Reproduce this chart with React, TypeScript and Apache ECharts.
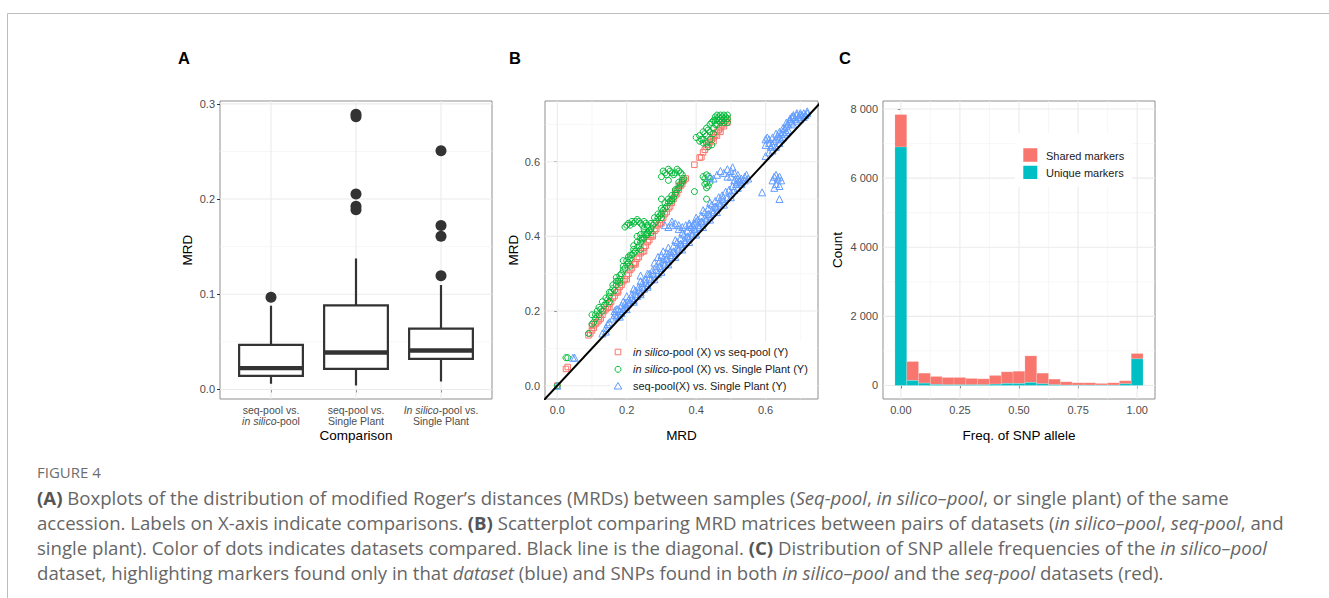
import React, { useEffect, useRef } from 'react';
import * as echarts from 'echarts';

const FONT = '"Liberation Sans", Arial, Helvetica, sans-serif';
const CAP_FONT = '"Open Sans", sans-serif';
const TICK_COLOR = '#4d4d4d';
const GRID_MAJOR = '#ebebeb';
const GRID_MINOR = '#f4f4f4';
const BORDER = '#8f8f8f';
const RED = '#F8766D';
const GREEN = '#00BA38';
const BLUE = '#619CFF';
const TEAL = '#00BFC4';

// ---------- Panel A : boxplots ----------
const boxLabels = [
  '{n|seq-pool vs.}\n{i|in silico}{n|-pool}',
  '{n|seq-pool vs.}\n{n|Single Plant}',
  '{i|In silico}{n|-pool vs.}\n{n|Single Plant}',
];
const boxPos = [1, 2, 3];
const whiskerLow = [0.006, 0.0042, 0.0084];
const q1 = [0.0143, 0.0217, 0.0322];
const median = [0.0224, 0.0388, 0.041];
const q3 = [0.0468, 0.0884, 0.0639];
const whiskerHigh = [0.088, 0.1376, 0.1097];
const outliers = [
  [1, 0.0968],
  [2, 0.289], [2, 0.2865], [2, 0.2054], [2, 0.1925], [2, 0.1888],
  [3, 0.2508], [3, 0.1722], [3, 0.161], [3, 0.1194],
];
const aTicksY = [0, 0.1, 0.2, 0.3];
const aMinorY = [0.05, 0.15, 0.25];

// ---------- Panel B : scatter ----------
const silicoVsSeq = [
  [0, 0], [0.025, 0.045], [0.03, 0.05],
  [0.09, 0.135], [0.095, 0.14], [0.1, 0.148], [0.1, 0.16], [0.105, 0.155], [0.11, 0.165], [0.115, 0.17],
  [0.12, 0.175], [0.12, 0.185], [0.125, 0.18], [0.13, 0.19], [0.135, 0.2], [0.14, 0.205], [0.145, 0.21],
  [0.15, 0.22], [0.155, 0.225], [0.16, 0.235], [0.165, 0.24], [0.17, 0.25], [0.175, 0.255], [0.18, 0.265],
  [0.185, 0.27], [0.19, 0.28], [0.195, 0.285], [0.2, 0.295], [0.205, 0.3], [0.21, 0.31], [0.215, 0.315],
  [0.22, 0.325], [0.225, 0.33], [0.23, 0.34], [0.235, 0.345], [0.24, 0.355], [0.245, 0.36], [0.25, 0.37],
  [0.255, 0.375], [0.26, 0.385], [0.265, 0.39], [0.27, 0.4], [0.275, 0.405], [0.28, 0.415], [0.285, 0.42],
  [0.29, 0.43], [0.295, 0.435], [0.3, 0.445], [0.305, 0.45], [0.31, 0.46], [0.315, 0.465], [0.32, 0.475],
  [0.325, 0.48], [0.33, 0.49], [0.335, 0.5], [0.34, 0.51], [0.345, 0.515], [0.35, 0.525], [0.355, 0.535],
  [0.36, 0.54], [0.365, 0.55], [0.2, 0.285], [0.25, 0.36], [0.3, 0.435], [0.15, 0.21],
  [0.36, 0.55], [0.37, 0.555], [0.35, 0.535], [0.34, 0.52], [0.175, 0.25], [0.225, 0.325], [0.275, 0.4],
  [0.395, 0.592], [0.41, 0.611], [0.415, 0.612],
  [0.42, 0.625], [0.425, 0.632], [0.43, 0.64], [0.435, 0.645], [0.44, 0.652], [0.445, 0.66], [0.45, 0.665],
  [0.455, 0.672], [0.46, 0.68], [0.465, 0.685], [0.47, 0.69], [0.475, 0.698], [0.48, 0.703], [0.485, 0.71],
  [0.49, 0.715], [0.49, 0.705], [0.47, 0.68], [0.45, 0.655], [0.46, 0.67], [0.48, 0.695],
];
const silicoVsPlant = [
  [0, 0], [0.025, 0.075], [0.03, 0.075],
  [0.09, 0.14], [0.1, 0.165], [0.1, 0.19], [0.105, 0.17], [0.11, 0.18], [0.115, 0.2], [0.12, 0.19],
  [0.125, 0.205], [0.13, 0.2], [0.135, 0.215], [0.14, 0.22], [0.145, 0.23], [0.15, 0.24], [0.155, 0.25],
  [0.16, 0.26], [0.165, 0.255], [0.17, 0.27], [0.175, 0.28], [0.17, 0.29], [0.18, 0.285], [0.185, 0.3],
  [0.19, 0.31], [0.19, 0.335], [0.195, 0.315], [0.2, 0.325], [0.205, 0.33], [0.205, 0.345], [0.21, 0.34],
  [0.215, 0.35], [0.22, 0.355], [0.22, 0.365], [0.225, 0.36], [0.23, 0.37], [0.235, 0.375], [0.24, 0.385],
  [0.245, 0.39], [0.25, 0.395], [0.255, 0.405], [0.26, 0.41], [0.265, 0.415], [0.27, 0.42], [0.275, 0.43],
  [0.28, 0.435], [0.285, 0.44], [0.29, 0.45], [0.295, 0.455], [0.3, 0.46], [0.305, 0.47], [0.31, 0.475],
  [0.315, 0.48], [0.32, 0.49], [0.3, 0.5], [0.325, 0.495], [0.33, 0.5], [0.335, 0.505], [0.34, 0.515],
  [0.345, 0.525], [0.35, 0.53], [0.355, 0.54],
  [0.11, 0.19], [0.12, 0.21], [0.13, 0.225], [0.14, 0.235], [0.15, 0.25], [0.16, 0.27], [0.17, 0.28],
  [0.18, 0.295], [0.19, 0.32], [0.2, 0.335], [0.21, 0.35], [0.22, 0.375], [0.23, 0.385], [0.24, 0.395],
  [0.25, 0.42], [0.26, 0.425], [0.27, 0.435], [0.28, 0.45], [0.29, 0.46], [0.3, 0.475], [0.31, 0.49],
  [0.32, 0.5], [0.33, 0.51], [0.34, 0.525], [0.35, 0.545], [0.36, 0.55],
  [0.15, 0.225], [0.18, 0.275], [0.21, 0.32], [0.24, 0.365], [0.27, 0.41], [0.3, 0.45], [0.33, 0.495],
  [0.195, 0.425], [0.2, 0.43], [0.205, 0.435], [0.21, 0.43], [0.215, 0.44], [0.22, 0.435], [0.225, 0.44],
  [0.23, 0.445], [0.235, 0.44], [0.24, 0.435], [0.245, 0.43], [0.25, 0.44], [0.255, 0.435], [0.26, 0.43],
  [0.23, 0.4], [0.24, 0.405], [0.25, 0.41], [0.245, 0.395], [0.26, 0.405],
  [0.3, 0.56], [0.305, 0.575], [0.31, 0.57], [0.315, 0.565], [0.32, 0.58], [0.325, 0.575], [0.33, 0.57],
  [0.335, 0.565], [0.34, 0.57], [0.345, 0.58], [0.35, 0.575], [0.355, 0.57], [0.36, 0.565], [0.365, 0.555],
  [0.32, 0.55], [0.36, 0.545],
  [0.395, 0.52],
  [0.42, 0.56], [0.425, 0.555], [0.43, 0.565], [0.435, 0.56], [0.44, 0.555], [0.43, 0.545], [0.425, 0.54],
  [0.435, 0.535], [0.44, 0.545], [0.43, 0.53],
  [0.43, 0.5],
  [0.4, 0.665], [0.41, 0.67], [0.415, 0.66], [0.42, 0.68], [0.425, 0.675], [0.43, 0.65], [0.43, 0.69],
  [0.435, 0.685], [0.44, 0.7], [0.44, 0.66], [0.445, 0.705], [0.45, 0.71], [0.45, 0.69], [0.455, 0.72],
  [0.455, 0.7], [0.46, 0.715], [0.46, 0.725], [0.465, 0.71], [0.465, 0.72], [0.47, 0.725], [0.47, 0.705],
  [0.475, 0.72], [0.475, 0.71], [0.48, 0.725], [0.48, 0.715], [0.485, 0.72], [0.49, 0.725], [0.49, 0.715],
  [0.435, 0.64], [0.445, 0.645], [0.45, 0.675], [0.42, 0.65],
  [0.46, 0.7], [0.47, 0.715], [0.48, 0.705], [0.49, 0.705], [0.455, 0.71], [0.44, 0.68], [0.43, 0.67],
  [0.42, 0.66], [0.41, 0.655],
];
const seqVsPlant = [
  [0, 0], [0.045, 0.075], [0.05, 0.075],
  [0.13, 0.14], [0.14, 0.155], [0.145, 0.165], [0.15, 0.17], [0.14, 0.145],
  [0.16, 0.18], [0.165, 0.19], [0.17, 0.185], [0.175, 0.19], [0.18, 0.2], [0.185, 0.195], [0.19, 0.205],
  [0.195, 0.21], [0.2, 0.215], [0.205, 0.22], [0.21, 0.225], [0.215, 0.235], [0.22, 0.23], [0.225, 0.245],
  [0.23, 0.24], [0.235, 0.255], [0.24, 0.25], [0.245, 0.265], [0.25, 0.26], [0.255, 0.275], [0.26, 0.27],
  [0.265, 0.29], [0.27, 0.285], [0.275, 0.3], [0.28, 0.295], [0.285, 0.31], [0.29, 0.3], [0.295, 0.32],
  [0.3, 0.315], [0.305, 0.33], [0.31, 0.325], [0.315, 0.34], [0.32, 0.335], [0.325, 0.35], [0.33, 0.345],
  [0.335, 0.36], [0.34, 0.355], [0.345, 0.37], [0.35, 0.365], [0.355, 0.38], [0.36, 0.375], [0.365, 0.39],
  [0.37, 0.385], [0.375, 0.4], [0.38, 0.395], [0.385, 0.41], [0.39, 0.405], [0.395, 0.42], [0.4, 0.415],
  [0.405, 0.43], [0.41, 0.425], [0.415, 0.44], [0.42, 0.435], [0.425, 0.45], [0.43, 0.445], [0.435, 0.46],
  [0.44, 0.455], [0.445, 0.47], [0.45, 0.465], [0.455, 0.48], [0.46, 0.475], [0.465, 0.49], [0.47, 0.485],
  [0.475, 0.5], [0.48, 0.495], [0.49, 0.505], [0.5, 0.515], [0.51, 0.525], [0.52, 0.53], [0.53, 0.54],
  [0.54, 0.55],
  [0.165, 0.2], [0.175, 0.205], [0.185, 0.215], [0.195, 0.22], [0.205, 0.23], [0.215, 0.245], [0.225, 0.255],
  [0.235, 0.265], [0.245, 0.275], [0.255, 0.285], [0.265, 0.3], [0.275, 0.31], [0.285, 0.32], [0.295, 0.335],
  [0.305, 0.34], [0.315, 0.355], [0.325, 0.36], [0.335, 0.375], [0.345, 0.385], [0.355, 0.395], [0.365, 0.405],
  [0.375, 0.415], [0.385, 0.425], [0.395, 0.435], [0.405, 0.445], [0.415, 0.455], [0.425, 0.465],
  [0.435, 0.475], [0.445, 0.485], [0.455, 0.495], [0.465, 0.505], [0.475, 0.51], [0.485, 0.52],
  [0.495, 0.525], [0.505, 0.535], [0.515, 0.54], [0.525, 0.55],
  [0.18, 0.185], [0.2, 0.205], [0.22, 0.225], [0.24, 0.245], [0.26, 0.265], [0.28, 0.285], [0.3, 0.305],
  [0.32, 0.325], [0.34, 0.345], [0.36, 0.365], [0.38, 0.385], [0.4, 0.405], [0.42, 0.425], [0.44, 0.445],
  [0.46, 0.465], [0.48, 0.485], [0.5, 0.505],
  [0.2, 0.24], [0.22, 0.26], [0.24, 0.28], [0.26, 0.3], [0.28, 0.33], [0.3, 0.35], [0.32, 0.37],
  [0.34, 0.39], [0.36, 0.41], [0.38, 0.43], [0.4, 0.45], [0.42, 0.47], [0.44, 0.49],
  [0.24, 0.295], [0.17, 0.205], [0.19, 0.225],
  [0.31, 0.43], [0.32, 0.425], [0.33, 0.43], [0.34, 0.435], [0.35, 0.43], [0.36, 0.425], [0.37, 0.43],
  [0.38, 0.435], [0.39, 0.43], [0.4, 0.44], [0.35, 0.42], [0.33, 0.44],
  [0.305, 0.36], [0.29, 0.345],
  [0.44, 0.56], [0.45, 0.555], [0.46, 0.565], [0.47, 0.575], [0.48, 0.57], [0.49, 0.58], [0.5, 0.575],
  [0.505, 0.585], [0.51, 0.57], [0.5, 0.56], [0.49, 0.56], [0.52, 0.565], [0.53, 0.555], [0.52, 0.545],
  [0.54, 0.56], [0.55, 0.555], [0.51, 0.55], [0.53, 0.545], [0.52, 0.555], [0.545, 0.565],
  [0.59, 0.518],
  [0.62, 0.55], [0.625, 0.56], [0.63, 0.565], [0.635, 0.555], [0.64, 0.56], [0.645, 0.55], [0.63, 0.54],
  [0.64, 0.535], [0.625, 0.53], [0.64, 0.5],
  [0.6, 0.66], [0.605, 0.665], [0.61, 0.65], [0.615, 0.64], [0.62, 0.645], [0.625, 0.655], [0.63, 0.66],
  [0.635, 0.67], [0.64, 0.665], [0.645, 0.675], [0.65, 0.68], [0.655, 0.69], [0.66, 0.695], [0.665, 0.7],
  [0.67, 0.71], [0.675, 0.705], [0.68, 0.72], [0.685, 0.715], [0.69, 0.725], [0.695, 0.72], [0.7, 0.73],
  [0.705, 0.725], [0.71, 0.73], [0.715, 0.725], [0.72, 0.73], [0.72, 0.735], [0.71, 0.72], [0.7, 0.715],
  [0.69, 0.71], [0.68, 0.7], [0.665, 0.685], [0.655, 0.675], [0.645, 0.66], [0.62, 0.63], [0.63, 0.64],
  [0.6, 0.645], [0.61, 0.66], [0.62, 0.665], [0.63, 0.675], [0.64, 0.68], [0.65, 0.69], [0.66, 0.705],
  [0.67, 0.715], [0.68, 0.725], [0.69, 0.73], [0.7, 0.725], [0.675, 0.72], [0.66, 0.68], [0.65, 0.665],
  [0.64, 0.65], [0.61, 0.625], [0.6, 0.615],
];
const diagonal = [[-0.1, -0.1], [0.9, 0.9]];
const bTicks = [0, 0.2, 0.4, 0.6];
const bMinor = [0.1, 0.3, 0.5, 0.7];
const bLegend = [
  '{i|in silico}-pool (X) vs seq-pool (Y)',
  '{i|in silico}-pool (X) vs. Single Plant (Y)',
  'seq-pool(X) vs. Single Plant (Y)',
];

// ---------- Panel C : histogram ----------
const freqBins = [0, 0.05, 0.1, 0.15, 0.2, 0.25, 0.3, 0.35, 0.4, 0.45, 0.5, 0.55, 0.6, 0.65, 0.7, 0.75, 0.8, 0.85, 0.9, 0.95, 1.0];
const uniqueCounts = [6900, 144, 67, 29, 20, 20, 20, 20, 38, 58, 58, 87, 48, 20, 10, 10, 10, 10, 10, 48, 770];
const sharedCounts = [940, 549, 289, 231, 211, 211, 182, 172, 251, 337, 356, 770, 308, 163, 96, 67, 67, 48, 67, 87, 154];
const binWidth = 0.05;
const cTicksX = [0, 0.25, 0.5, 0.75, 1.0];
const cMinorX = [0.125, 0.375, 0.625, 0.875];
const cTicksY = [0, 2000, 4000, 6000, 8000];
const cMinorY = [1000, 3000, 5000, 7000];
const cLegend = ['Shared markers', 'Unique markers'];

// ---------- Caption ----------
const captionTitle = 'FIGURE 4';
const captionLines = [
  '{b|(A)} Boxplots of the distribution of modified Roger’s distances (MRDs) between samples ({i|Seq-pool}, {i|in silico–pool}, or single plant) of the same',
  'accession. Labels on X-axis indicate comparisons. {b|(B)} Scatterplot comparing MRD matrices between pairs of datasets ({i|in silico–pool}, {i|seq-pool}, and',
  'single plant). Color of dots indicates datasets compared. Black line is the diagonal. {b|(C)} Distribution of SNP allele frequencies of the {i|in silico–pool}',
  'dataset, highlighting markers found only in that {i|dataset} (blue) and SNPs found in both {i|in silico–pool} and the {i|seq-pool} datasets (red).',
];

function gridRows(hMajor: number[], hMinor: number[], vMajor: number[], vMinor: number[]) {
  return [
    ...hMinor.map((v) => [v, 1]),
    ...vMinor.map((v) => [v, 3]),
    ...hMajor.map((v) => [v, 0]),
    ...vMajor.map((v) => [v, 2]),
  ];
}

function gridSeries(idx: number, rows: number[][]) {
  return {
    type: 'custom',
    xAxisIndex: idx,
    yAxisIndex: idx,
    silent: true,
    z: 1,
    data: rows,
    renderItem: (params: any, api: any) => {
      const cs = params.coordSys;
      const v = api.value(0);
      const k = api.value(1);
      const style = { stroke: k % 2 === 0 ? GRID_MAJOR : GRID_MINOR, lineWidth: k % 2 === 0 ? 1.1 : 0.7 };
      if (k < 2) {
        const y = api.coord([0, v])[1];
        return { type: 'line', shape: { x1: cs.x, y1: y, x2: cs.x + cs.width, y2: y }, style };
      }
      const x = api.coord([v, 0])[0];
      return { type: 'line', shape: { x1: x, y1: cs.y, x2: x, y2: cs.y + cs.height }, style };
    },
  };
}

function valueAxis(idx: number, min: number, max: number, ticks: number[], fmt: (v: number) => string) {
  return {
    type: 'value',
    gridIndex: idx,
    min,
    max,
    splitLine: { show: false },
    axisLine: { show: false },
    axisTick: { show: true, length: 3, inside: false, customValues: ticks, lineStyle: { color: '#333', width: 1 } },
    axisLabel: {
      customValues: ticks,
      formatter: (v: number) => fmt(v),
      color: TICK_COLOR,
      fontSize: 11,
      fontFamily: FONT,
      margin: 5,
    },
  };
}

const thousands = (v: number) => {
  const s = Math.round(v).toString();
  return s.length > 3 ? s.slice(0, s.length - 3) + ' ' + s.slice(s.length - 3) : s;
};

export default function App() {
  const ref = useRef<HTMLDivElement>(null);
  useEffect(() => {
    if (!ref.current) return;
    const chart = echarts.init(ref.current, undefined, { renderer: 'svg' });

    const txt = (text: string, x: number, y: number, size: number, extra: any = {}) => ({
      type: 'text',
      x,
      y,
      silent: true,
      z: 100,
      style: {
        text,
        fontFamily: FONT,
        fontSize: size,
        fill: '#000',
        align: 'center',
        verticalAlign: 'middle',
        ...extra,
      },
    });

    const richPlot = (size: number) => ({
      i: { fontStyle: 'italic', fontFamily: FONT, fontSize: size, fill: '#1a1a1a' },
    });

    const legendB: any[] = [
      { type: 'rect', shape: { x: 610, y: 341, width: 207, height: 57 }, style: { fill: '#fff' }, z: 50, silent: true },
      { type: 'rect', shape: { x: 615.2, y: 349.2, width: 5.6, height: 5.6 }, style: { fill: 'none', stroke: RED, lineWidth: 1 }, z: 60, silent: true },
      { type: 'circle', shape: { cx: 618, cy: 369.3, r: 3 }, style: { fill: 'none', stroke: GREEN, lineWidth: 1 }, z: 60, silent: true },
      { type: 'polygon', shape: { points: [[618, 382.5], [621.8, 389], [614.2, 389]] }, style: { fill: 'none', stroke: BLUE, lineWidth: 1 }, z: 60, silent: true },
    ];
    bLegend.forEach((t, i) => {
      legendB.push(
        txt(t, 633, 352 + i * 17, 11, { align: 'left', fill: '#1a1a1a', rich: richPlot(11) })
      );
    });

    const legendC: any[] = [
      { type: 'rect', shape: { x: 1015, y: 133, width: 117, height: 54 }, style: { fill: '#fff' }, z: 50, silent: true },
      { type: 'rect', shape: { x: 1023.3, y: 148.3, width: 14, height: 13.4 }, style: { fill: RED }, z: 60, silent: true },
      { type: 'rect', shape: { x: 1023.3, y: 165.7, width: 14, height: 13.4 }, style: { fill: TEAL }, z: 60, silent: true },
    ];
    cLegend.forEach((t, i) => {
      legendC.push(txt(t, 1046, 155.7 + i * 17, 11, { align: 'left', fill: '#1a1a1a' }));
    });

    const CAP_SIZE = 18.6;
    const CAP_COLOR = '#666';
    const capRich = {
      b: { fontWeight: 'bold', fontFamily: CAP_FONT, fontSize: CAP_SIZE, fill: '#555' },
      i: { fontStyle: 'italic', fontFamily: CAP_FONT, fontSize: CAP_SIZE, fill: CAP_COLOR },
    };
    const caption: any[] = [
      txt(captionTitle, 37, 472, 15, { align: 'left', fontFamily: CAP_FONT, fill: '#6e6e6e' }),
      ...captionLines.map((t, i) =>
        txt(t, 37, 497 + i * 25, CAP_SIZE, { align: 'left', fontFamily: CAP_FONT, fill: CAP_COLOR, rich: capRich })
      ),
    ];

    const option: any = {
      animation: false,
      backgroundColor: '#fff',
      grid: [
        { left: 220, top: 101, width: 272, height: 298, show: true, borderColor: BORDER, borderWidth: 1, backgroundColor: '#fff' },
        { left: 545, top: 101, width: 273, height: 298, show: true, borderColor: BORDER, borderWidth: 1, backgroundColor: '#fff' },
        { left: 883, top: 101, width: 272, height: 298, show: true, borderColor: BORDER, borderWidth: 1, backgroundColor: '#fff' },
      ],
      xAxis: [
        {
          ...valueAxis(0, 0.4, 3.6, boxPos, (v) => boxLabels[Math.round(v) - 1] || ''),
          axisLabel: {
            customValues: boxPos,
            formatter: (v: number) => boxLabels[Math.round(v) - 1] || '',
            color: TICK_COLOR,
            fontSize: 10.5,
            fontFamily: FONT,
            margin: 6,
            lineHeight: 10.5,
            rich: {
              n: { color: TICK_COLOR, fontSize: 10.5, fontFamily: FONT, lineHeight: 10.5 },
              i: { color: TICK_COLOR, fontSize: 10.5, fontFamily: FONT, fontStyle: 'italic', lineHeight: 10.5 },
            },
          },
        },
        valueAxis(1, -0.0354, 0.751, bTicks, (v) => v.toFixed(1)),
        valueAxis(2, -0.0755, 1.0755, cTicksX, (v) => v.toFixed(2)),
      ],
      yAxis: [
        valueAxis(0, -0.01, 0.303, aTicksY, (v) => v.toFixed(1)),
        valueAxis(1, -0.0356, 0.7626, bTicks, (v) => v.toFixed(1)),
        valueAxis(2, -392, 8232, cTicksY, thousands),
      ],
      series: [
        gridSeries(0, gridRows(aTicksY, aMinorY, boxPos, [])),
        gridSeries(1, gridRows(bTicks, bMinor, bTicks, bMinor)),
        gridSeries(2, gridRows(cTicksY, cMinorY, cTicksX, cMinorX)),
        {
          type: 'custom',
          xAxisIndex: 0,
          yAxisIndex: 0,
          silent: true,
          z: 3,
          encode: { x: 0, y: [1, 2, 3, 4, 5] },
          data: boxPos.map((p, i) => [p, whiskerLow[i], q1[i], median[i], q3[i], whiskerHigh[i]]),
          renderItem: (params: any, api: any) => {
            const x = api.value(0);
            const lo = api.value(1), a = api.value(2), m = api.value(3), b = api.value(4), hi = api.value(5);
            const hw = 0.375;
            const pTL = api.coord([x - hw, b]);
            const pBR = api.coord([x + hw, a]);
            const pm1 = api.coord([x - hw, m]);
            const pm2 = api.coord([x + hw, m]);
            const pLo = api.coord([x, lo]);
            const pA = api.coord([x, a]);
            const pB = api.coord([x, b]);
            const pHi = api.coord([x, hi]);
            const ls = { stroke: '#333', lineWidth: 2.2 };
            return {
              type: 'group',
              children: [
                { type: 'line', shape: { x1: pHi[0], y1: pHi[1], x2: pB[0], y2: pB[1] }, style: ls },
                { type: 'line', shape: { x1: pLo[0], y1: pLo[1], x2: pA[0], y2: pA[1] }, style: ls },
                { type: 'rect', shape: { x: pTL[0], y: pTL[1], width: pBR[0] - pTL[0], height: pBR[1] - pTL[1] }, style: { fill: '#fff', stroke: '#333', lineWidth: 2.2 } },
                { type: 'line', shape: { x1: pm1[0], y1: pm1[1], x2: pm2[0], y2: pm2[1] }, style: { stroke: '#333', lineWidth: 4.4 } },
              ],
            };
          },
        },
        {
          type: 'scatter',
          xAxisIndex: 0,
          yAxisIndex: 0,
          silent: true,
          z: 4,
          data: outliers,
          symbol: 'circle',
          symbolSize: 11,
          itemStyle: { color: '#333', opacity: 1 },
        },
        {
          type: 'scatter',
          xAxisIndex: 1,
          yAxisIndex: 1,
          silent: true,
          z: 3,
          data: silicoVsSeq,
          symbol: 'rect',
          symbolSize: 5.5,
          itemStyle: { color: 'rgba(0,0,0,0)', borderColor: RED, borderWidth: 1, opacity: 1 },
        },
        {
          type: 'scatter',
          xAxisIndex: 1,
          yAxisIndex: 1,
          silent: true,
          z: 3,
          data: silicoVsPlant,
          symbol: 'circle',
          symbolSize: 6,
          itemStyle: { color: 'rgba(0,0,0,0)', borderColor: GREEN, borderWidth: 1, opacity: 1 },
        },
        {
          type: 'scatter',
          xAxisIndex: 1,
          yAxisIndex: 1,
          silent: true,
          z: 3,
          data: seqVsPlant,
          symbol: 'triangle',
          symbolSize: 7,
          itemStyle: { color: 'rgba(0,0,0,0)', borderColor: BLUE, borderWidth: 1, opacity: 1 },
        },
        {
          type: 'line',
          xAxisIndex: 1,
          yAxisIndex: 1,
          silent: true,
          z: 5,
          data: diagonal,
          symbol: 'none',
          showSymbol: false,
          clip: true,
          lineStyle: { color: '#000', width: 2 },
        },
        {
          type: 'custom',
          xAxisIndex: 2,
          yAxisIndex: 2,
          silent: true,
          z: 3,
          encode: { x: 0, y: [1, 2] },
          data: freqBins.map((b, i) => [b, uniqueCounts[i], sharedCounts[i]]),
          renderItem: (params: any, api: any) => {
            const c = api.value(0);
            const u = api.value(1);
            const s = api.value(2);
            const p0 = api.coord([c - binWidth / 2, 0]);
            const p1 = api.coord([c + binWidth / 2, u]);
            const p2 = api.coord([c + binWidth / 2, u + s]);
            return {
              type: 'group',
              children: [
                { type: 'rect', shape: { x: p0[0], y: p2[1], width: p1[0] - p0[0], height: p1[1] - p2[1] }, style: { fill: RED, stroke: 'rgba(255,255,255,0.35)', lineWidth: 0.5 } },
                { type: 'rect', shape: { x: p0[0], y: p1[1], width: p1[0] - p0[0], height: p0[1] - p1[1] }, style: { fill: TEAL, stroke: 'rgba(255,255,255,0.35)', lineWidth: 0.5 } },
              ],
            };
          },
        },
      ],
      graphic: [
        { type: 'line', shape: { x1: 7.5, y1: 13.5, x2: 1329, y2: 13.5 }, style: { stroke: '#bdbdbd', lineWidth: 1 }, silent: true },
        { type: 'line', shape: { x1: 7.5, y1: 13.5, x2: 7.5, y2: 598 }, style: { stroke: '#bdbdbd', lineWidth: 1 }, silent: true },
        txt('A', 184, 58, 16.5, { fontWeight: 'bold' }),
        txt('B', 515, 58, 16.5, { fontWeight: 'bold' }),
        txt('C', 845, 58, 16.5, { fontWeight: 'bold' }),
        { ...txt('MRD', 187, 250, 13.5), rotation: Math.PI / 2 },
        txt('Comparison', 356, 435, 13.5),
        { ...txt('MRD', 513, 250, 13.5), rotation: Math.PI / 2 },
        txt('MRD', 681.5, 435, 13.5),
        { ...txt('Count', 837, 250, 13.5), rotation: Math.PI / 2 },
        txt('Freq. of SNP allele', 1019, 435, 13.5),
        ...legendB,
        ...legendC,
        ...caption,
      ],
    };
    chart.setOption(option);
    return () => chart.dispose();
  }, []);

  return <div ref={ref} style={{ position: 'absolute', left: 0, top: 0, width: 1329, height: 598 }} />;
}
